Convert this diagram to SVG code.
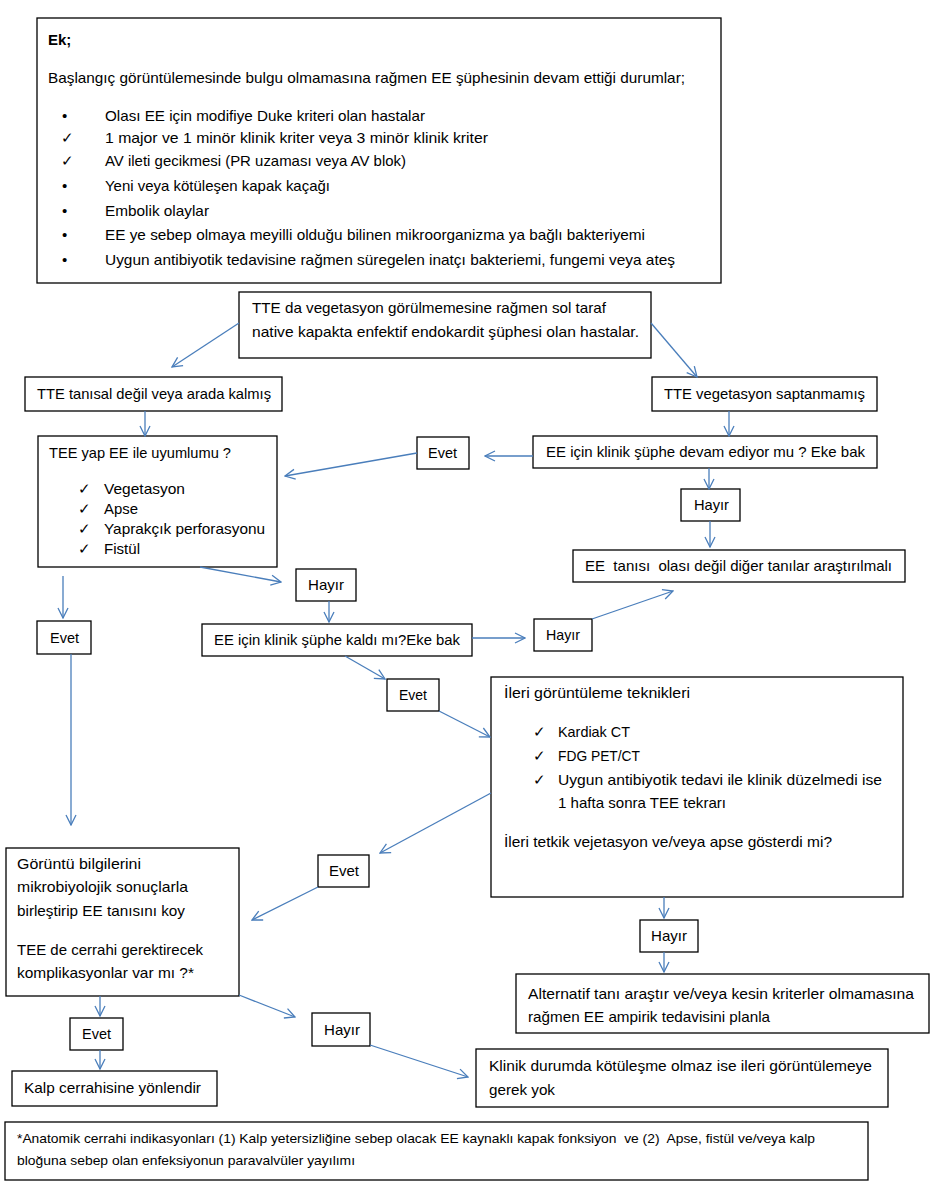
<svg xmlns="http://www.w3.org/2000/svg" width="933" height="1183" viewBox="0 0 933 1183">
<defs>
<marker id="ah" markerWidth="12" markerHeight="12" refX="11" refY="6" orient="auto" markerUnits="userSpaceOnUse">
<path d="M1,1 L11,6 L1,11" fill="none" stroke="#4a7ebb" stroke-width="1.3"/>
</marker>
</defs>
<style>
.b{fill:#fff;stroke:#000;stroke-width:1.3}
text{font-family:"Liberation Sans",Arial,sans-serif;font-size:15px;fill:#000}
.s{font-size:13.5px}
.bold{font-weight:bold}
.c{fill:none;stroke:#4a7ebb;stroke-width:1.3;marker-end:url(#ah)}
</style>
<rect width="933" height="1183" fill="#fff"/>

<g id="ek">
<rect class="b" x="37" y="18" width="684" height="265"/>
<text class="bold" x="48" y="45">Ek;</text>
<text x="48" y="83" textLength="637" lengthAdjust="spacingAndGlyphs">Başlangıç görüntülemesinde bulgu olmamasına rağmen EE şüphesinin devam ettiği durumlar;</text>
<text x="62" y="121">•</text><text x="105" y="121" textLength="320" lengthAdjust="spacingAndGlyphs">Olası EE için modifiye Duke kriteri olan hastalar</text>
<text x="61" y="143">✓</text><text x="105" y="143" textLength="383" lengthAdjust="spacingAndGlyphs">1 major ve 1 minör klinik kriter veya 3 minör klinik kriter</text>
<text x="61" y="166">✓</text><text x="105" y="166" textLength="301" lengthAdjust="spacingAndGlyphs">AV ileti gecikmesi (PR uzaması veya AV blok)</text>
<text x="62" y="191">•</text><text x="105" y="191" textLength="225" lengthAdjust="spacingAndGlyphs">Yeni veya kötüleşen kapak kaçağı</text>
<text x="62" y="216">•</text><text x="105" y="216" textLength="104" lengthAdjust="spacingAndGlyphs">Embolik olaylar</text>
<text x="62" y="240">•</text><text x="105" y="240" textLength="540" lengthAdjust="spacingAndGlyphs">EE ye sebep olmaya meyilli olduğu bilinen mikroorganizma ya bağlı bakteriyemi</text>
<text x="62" y="265">•</text><text x="105" y="265" textLength="570" lengthAdjust="spacingAndGlyphs">Uygun antibiyotik tedavisine rağmen süregelen inatçı bakteriemi, fungemi veya ateş</text>
</g>

<g id="start">
<rect class="b" x="239" y="292" width="412" height="66"/>
<text x="252" y="313" textLength="354" lengthAdjust="spacingAndGlyphs">TTE da vegetasyon görülmemesine rağmen sol taraf</text>
<text x="252" y="337" textLength="387" lengthAdjust="spacingAndGlyphs">native kapakta enfektif endokardit şüphesi olan hastalar.</text>
</g>

<g id="tte-nondiag">
<rect class="b" x="25" y="377" width="257" height="34"/>
<text x="37" y="399" textLength="234" lengthAdjust="spacingAndGlyphs">TTE tanısal değil veya arada kalmış</text>
</g>

<g id="tte-noveg">
<rect class="b" x="652" y="377" width="225" height="34"/>
<text x="664" y="399" textLength="201" lengthAdjust="spacingAndGlyphs">TTE vegetasyon saptanmamış</text>
</g>

<g id="tee">
<rect class="b" x="38" y="436" width="239" height="131"/>
<text x="49" y="458" textLength="182" lengthAdjust="spacingAndGlyphs">TEE yap EE ile uyumlumu ?</text>
<text x="78" y="494">✓</text><text x="104" y="494" textLength="81" lengthAdjust="spacingAndGlyphs">Vegetasyon</text>
<text x="78" y="514">✓</text><text x="104" y="514" textLength="34" lengthAdjust="spacingAndGlyphs">Apse</text>
<text x="78" y="534">✓</text><text x="104" y="534" textLength="161" lengthAdjust="spacingAndGlyphs">Yaprakçık perforasyonu</text>
<text x="78" y="554">✓</text><text x="104" y="554" textLength="36" lengthAdjust="spacingAndGlyphs">Fistül</text>
</g>

<g id="evet1">
<rect class="b" x="417" y="437" width="52" height="32"/>
<text x="428" y="458" textLength="29" lengthAdjust="spacingAndGlyphs">Evet</text>
</g>

<g id="suphe-devam">
<rect class="b" x="533" y="436" width="344" height="32"/>
<text x="546" y="457" textLength="319" lengthAdjust="spacingAndGlyphs">EE için klinik şüphe devam ediyor mu ? Eke bak</text>
</g>

<g id="hayir1">
<rect class="b" x="681" y="489" width="59" height="32"/>
<text x="694" y="510" textLength="35" lengthAdjust="spacingAndGlyphs">Hayır</text>
</g>

<g id="olasi-degil">
<rect class="b" x="573" y="550" width="332" height="32"/>
<text x="585" y="571" textLength="307" lengthAdjust="spacingAndGlyphs" xml:space="preserve">EE  tanısı  olası değil diğer tanılar araştırılmalı</text>
</g>

<g id="hayir2">
<rect class="b" x="296" y="569" width="60" height="32"/>
<text x="308" y="590" textLength="36" lengthAdjust="spacingAndGlyphs">Hayır</text>
</g>

<g id="evet2">
<rect class="b" x="37" y="621" width="54" height="33"/>
<text x="50" y="643" textLength="29" lengthAdjust="spacingAndGlyphs">Evet</text>
</g>

<g id="suphe-kaldi">
<rect class="b" x="202" y="624" width="270" height="32"/>
<text x="214" y="645" textLength="246" lengthAdjust="spacingAndGlyphs">EE için klinik şüphe kaldı mı?Eke bak</text>
</g>

<g id="hayir3">
<rect class="b" x="534" y="619" width="58" height="32"/>
<text x="546" y="640" textLength="34" lengthAdjust="spacingAndGlyphs">Hayır</text>
</g>

<g id="evet3">
<rect class="b" x="387" y="679" width="52" height="32"/>
<text x="399" y="700" textLength="28" lengthAdjust="spacingAndGlyphs">Evet</text>
</g>

<g id="ileri">
<rect class="b" x="491" y="677" width="412" height="220"/>
<text x="504" y="698" textLength="186" lengthAdjust="spacingAndGlyphs">İleri görüntüleme teknikleri</text>
<text x="533" y="737">✓</text><text x="558" y="737" textLength="72" lengthAdjust="spacingAndGlyphs">Kardiak CT</text>
<text x="533" y="761">✓</text><text x="558" y="761" textLength="82" lengthAdjust="spacingAndGlyphs">FDG PET/CT</text>
<text x="533" y="785">✓</text><text x="558" y="785" textLength="324" lengthAdjust="spacingAndGlyphs">Uygun antibiyotik tedavi ile klinik düzelmedi ise</text>
<text x="558" y="808" textLength="168" lengthAdjust="spacingAndGlyphs">1 hafta sonra TEE tekrarı</text>
<text x="504" y="847" textLength="328" lengthAdjust="spacingAndGlyphs">İleri tetkik vejetasyon ve/veya apse gösterdi mi?</text>
</g>

<g id="goruntu">
<rect class="b" x="6" y="848" width="233" height="148"/>
<text x="17" y="869" textLength="124" lengthAdjust="spacingAndGlyphs">Görüntü bilgilerini</text>
<text x="17" y="892" textLength="171" lengthAdjust="spacingAndGlyphs">mikrobiyolojik sonuçlarla</text>
<text x="17" y="916" textLength="168" lengthAdjust="spacingAndGlyphs">birleştirip EE tanısını koy</text>
<text x="17" y="955" textLength="186" lengthAdjust="spacingAndGlyphs">TEE de cerrahi gerektirecek</text>
<text x="17" y="978" textLength="177" lengthAdjust="spacingAndGlyphs">komplikasyonlar var mı ?*</text>
</g>

<g id="evet4">
<rect class="b" x="318" y="855" width="51" height="32"/>
<text x="329" y="876" textLength="30" lengthAdjust="spacingAndGlyphs">Evet</text>
</g>

<g id="hayir4">
<rect class="b" x="640" y="920" width="58" height="32"/>
<text x="651" y="941" textLength="36" lengthAdjust="spacingAndGlyphs">Hayır</text>
</g>

<g id="alternatif">
<rect class="b" x="516" y="974" width="413" height="59"/>
<text x="528" y="999" textLength="386" lengthAdjust="spacingAndGlyphs">Alternatif tanı araştır ve/veya kesin kriterler olmamasına</text>
<text x="528" y="1022" textLength="242" lengthAdjust="spacingAndGlyphs">rağmen EE ampirik tedavisini planla</text>
</g>

<g id="evet5">
<rect class="b" x="70" y="1018" width="53" height="32"/>
<text x="82" y="1039" textLength="29" lengthAdjust="spacingAndGlyphs">Evet</text>
</g>

<g id="hayir5">
<rect class="b" x="312" y="1013" width="58" height="33"/>
<text x="324" y="1035" textLength="36" lengthAdjust="spacingAndGlyphs">Hayır</text>
</g>

<g id="kalp">
<rect class="b" x="12" y="1071" width="205" height="35"/>
<text x="24" y="1093" textLength="177" lengthAdjust="spacingAndGlyphs">Kalp cerrahisine yönlendir</text>
</g>

<g id="klinik">
<rect class="b" x="476" y="1049" width="412" height="58"/>
<text x="489" y="1071" textLength="383" lengthAdjust="spacingAndGlyphs">Klinik durumda kötüleşme olmaz ise ileri görüntülemeye</text>
<text x="489" y="1095" textLength="66" lengthAdjust="spacingAndGlyphs">gerek yok</text>
</g>

<g id="footnote">
<rect class="b" x="5" y="1122" width="863" height="58"/>
<text class="s" x="17" y="1143" textLength="798" lengthAdjust="spacingAndGlyphs" xml:space="preserve">*Anatomik cerrahi indikasyonları (1) Kalp yetersizliğine sebep olacak EE kaynaklı kapak fonksiyon  ve (2)  Apse, fistül ve/veya kalp</text>
<text class="s" x="17" y="1165" textLength="338" lengthAdjust="spacingAndGlyphs">bloğuna sebep olan enfeksiyonun paravalvüler yayılımı</text>
</g>

<g id="connectors">
<line class="c" x1="239" y1="323" x2="172" y2="367"/>
<line class="c" x1="651" y1="323" x2="697" y2="377"/>
<line class="c" x1="145" y1="411" x2="145" y2="436"/>
<line class="c" x1="729" y1="411" x2="729" y2="436"/>
<line class="c" x1="533" y1="456" x2="485" y2="456"/>
<line class="c" x1="417" y1="453" x2="285" y2="476"/>
<line class="c" x1="709" y1="468" x2="709" y2="489"/>
<line class="c" x1="710" y1="521" x2="710" y2="547"/>
<line class="c" x1="200" y1="567" x2="281" y2="582"/>
<line class="c" x1="329" y1="601" x2="329" y2="622"/>
<line class="c" x1="63" y1="576" x2="63" y2="618"/>
<line class="c" x1="71" y1="654" x2="71" y2="825"/>
<line class="c" x1="472" y1="638" x2="525" y2="638"/>
<line class="c" x1="592" y1="619" x2="673" y2="591"/>
<line class="c" x1="345" y1="656" x2="385" y2="679"/>
<line class="c" x1="439" y1="711" x2="490" y2="737"/>
<line class="c" x1="491" y1="793" x2="380" y2="853"/>
<line class="c" x1="318" y1="887" x2="252" y2="920"/>
<line class="c" x1="664" y1="897" x2="664" y2="918"/>
<line class="c" x1="664" y1="952" x2="664" y2="972"/>
<line class="c" x1="100" y1="996" x2="100" y2="1016"/>
<line class="c" x1="100" y1="1050" x2="100" y2="1069"/>
<line class="c" x1="239" y1="995" x2="295" y2="1017"/>
<line class="c" x1="370" y1="1045" x2="468" y2="1077"/>
</g>
</svg>
